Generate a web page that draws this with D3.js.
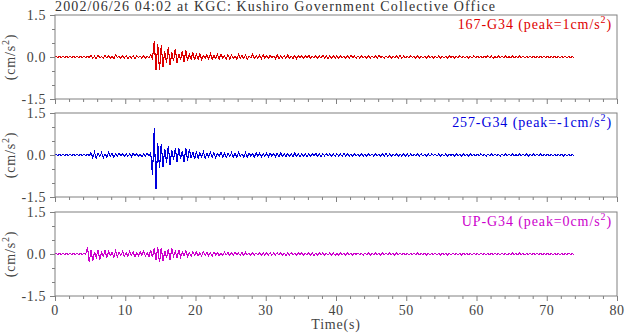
<!DOCTYPE html>
<html><head><meta charset="utf-8">
<script src="https://cdn.jsdelivr.net/npm/d3@7"></script>
<style>
html,body{margin:0;padding:0;background:#fff;}
svg{display:block;font-family:"Liberation Serif","Times New Roman",serif;}
</style></head>
<body>
<svg id="chart" width="625" height="334"></svg>
<script>
// ---- data (0.5 s bins, per-bin max / min amplitude in cm/s^2) ----
const title = "2002/06/26 04:02 at KGC: Kushiro Government Collective Office";
const components = ["167-G34", "257-G34", "UP-G34"];
const peaks = ["1", "-1", "0"];
const colors = ["#dd0000", "#0000dd", "#cc00cc"];
const binStep = 0.5;
const yTickLabels = ["1.5", "0.0", "-1.5"];
const xTickLabels = [0, 10, 20, 30, 40, 50, 60, 70, 80];

const hi167 = [
0.01,0.01,0.01,0.01,0.01,0.01,0.01,0.01,0.01,0.02,
0.05,0.03,0.06,0.02,0.05,0.03,0.04,0.07,0.02,0.04,
0.05,0.02,0.04,0.05,0.03,0.06,0.03,0.07,0.57,0.48,
0.43,0.20,0.37,0.16,0.29,0.12,0.21,0.24,0.09,0.17,
0.10,0.13,0.05,0.09,0.12,0.05,0.09,0.11,0.04,0.08,
0.07,0.04,0.09,0.05,0.07,0.03,0.09,0.05,0.06,0.08,
0.05,0.06,0.03,0.07,0.04,0.05,0.07,0.03,0.05,0.06,
0.04,0.05,0.06,0.03,0.05,0.04,0.06,0.03,0.05,0.05,
0.04,0.05,0.03,0.04,0.06,0.03,0.04,0.05,0.03,0.04,
0.04,0.03,0.05,0.02,0.04,0.04,0.03,0.05,0.05,0.03,
0.03,0.04,0.02,0.04,0.03,0.03,0.04,0.02,0.03,0.04,
0.03,0.02,0.04,0.03,0.03,0.04,0.02,0.03,0.03,0.04,
0.03,0.03,0.02,0.04,0.03,0.02,0.03,0.03,0.04,0.02,
0.03,0.02,0.03,0.03,0.02,0.03,0.03,0.02,0.03,0.03,
0.03,0.02,0.03,0.02,0.02,0.03,0.02,0.02];
const lo167 = [
-0.01,-0.01,-0.01,-0.01,-0.01,-0.01,-0.01,-0.01,-0.01,-0.02,
-0.05,-0.06,-0.03,-0.05,-0.03,-0.05,-0.06,-0.02,-0.05,-0.04,
-0.05,-0.03,-0.06,-0.02,-0.05,-0.04,-0.03,-0.06,-0.46,-0.48,
-0.35,-0.22,-0.30,-0.15,-0.21,-0.10,-0.17,-0.13,-0.08,-0.12,
-0.09,-0.10,-0.05,-0.08,-0.09,-0.05,-0.07,-0.04,-0.08,-0.07,
-0.06,-0.07,-0.04,-0.06,-0.07,-0.03,-0.06,-0.05,-0.06,-0.04,
-0.05,-0.03,-0.06,-0.05,-0.03,-0.05,-0.04,-0.05,-0.06,-0.03,
-0.05,-0.04,-0.05,-0.03,-0.05,-0.04,-0.03,-0.05,-0.04,-0.05,
-0.04,-0.03,-0.04,-0.05,-0.02,-0.04,-0.04,-0.03,-0.04,-0.04,
-0.03,-0.04,-0.02,-0.04,-0.03,-0.04,-0.02,-0.03,-0.04,-0.03,
-0.03,-0.02,-0.04,-0.03,-0.03,-0.04,-0.02,-0.03,-0.04,-0.03,
-0.03,-0.04,-0.02,-0.03,-0.03,-0.02,-0.04,-0.03,-0.03,-0.02,
-0.03,-0.03,-0.02,-0.03,-0.04,-0.03,-0.02,-0.03,-0.03,-0.03,
-0.03,-0.02,-0.03,-0.03,-0.03,-0.02,-0.03,-0.02,-0.03,-0.02,
-0.03,-0.02,-0.02,-0.03,-0.02,-0.02,-0.03,-0.02];

const hi257 = [
0.01,0.01,0.01,0.01,0.01,0.01,0.01,0.01,0.01,0.02,
0.08,0.10,0.06,0.09,0.04,0.08,0.05,0.03,0.06,0.04,
0.05,0.03,0.06,0.04,0.03,0.05,0.06,0.08,0.96,0.42,
0.40,0.22,0.33,0.17,0.25,0.26,0.14,0.24,0.20,0.11,
0.13,0.08,0.12,0.06,0.10,0.08,0.05,0.10,0.07,0.05,
0.08,0.05,0.09,0.04,0.08,0.07,0.04,0.08,0.06,0.05,
0.06,0.07,0.04,0.06,0.07,0.04,0.06,0.05,0.07,0.04,
0.05,0.06,0.04,0.05,0.06,0.03,0.05,0.06,0.04,0.04,
0.05,0.03,0.05,0.05,0.03,0.05,0.04,0.05,0.03,0.05,
0.04,0.05,0.03,0.04,0.05,0.03,0.04,0.05,0.03,0.04,
0.04,0.03,0.03,0.04,0.04,0.02,0.04,0.04,0.03,0.04,
0.03,0.04,0.03,0.03,0.04,0.02,0.04,0.03,0.04,0.03,
0.03,0.04,0.02,0.03,0.04,0.03,0.02,0.04,0.03,0.03,
0.03,0.02,0.04,0.03,0.03,0.02,0.03,0.04,0.03,0.02,
0.03,0.03,0.02,0.02,0.03,0.03,0.02,0.02];
const lo257 = [
-0.01,-0.01,-0.01,-0.01,-0.01,-0.01,-0.01,-0.01,-0.01,-0.02,
-0.10,-0.12,-0.06,-0.10,-0.07,-0.04,-0.07,-0.05,-0.03,-0.05,
-0.05,-0.06,-0.03,-0.05,-0.06,-0.03,-0.04,-0.72,-1.20,-0.47,
-0.42,-0.28,-0.36,-0.18,-0.24,-0.14,-0.24,-0.20,-0.12,-0.15,
-0.12,-0.07,-0.11,-0.06,-0.08,-0.10,-0.05,-0.07,-0.09,-0.05,
-0.07,-0.08,-0.04,-0.07,-0.08,-0.04,-0.07,-0.05,-0.07,-0.04,
-0.06,-0.04,-0.07,-0.06,-0.04,-0.06,-0.05,-0.06,-0.04,-0.06,
-0.05,-0.06,-0.04,-0.04,-0.05,-0.06,-0.03,-0.04,-0.05,-0.05,
-0.04,-0.05,-0.03,-0.04,-0.05,-0.03,-0.05,-0.04,-0.05,-0.03,
-0.04,-0.03,-0.05,-0.04,-0.04,-0.05,-0.03,-0.04,-0.04,-0.05,
-0.04,-0.03,-0.04,-0.03,-0.03,-0.04,-0.04,-0.02,-0.04,-0.03,
-0.04,-0.03,-0.02,-0.04,-0.03,-0.04,-0.02,-0.03,-0.04,-0.03,
-0.03,-0.02,-0.04,-0.03,-0.03,-0.02,-0.04,-0.03,-0.03,-0.03,
-0.03,-0.03,-0.02,-0.03,-0.04,-0.03,-0.02,-0.03,-0.03,-0.03,
-0.03,-0.02,-0.03,-0.02,-0.03,-0.02,-0.03,-0.02];

const hiUP = [
0.01,0.01,0.01,0.01,0.01,0.01,0.01,0.01,0.01,0.26,
0.14,0.08,0.15,0.06,0.13,0.09,0.05,0.10,0.06,0.09,
0.05,0.10,0.07,0.04,0.08,0.10,0.06,0.14,0.20,0.26,
0.22,0.12,0.18,0.20,0.09,0.15,0.07,0.12,0.05,0.09,
0.07,0.04,0.08,0.06,0.03,0.07,0.05,0.04,0.06,0.05,
0.05,0.06,0.03,0.05,0.06,0.03,0.05,0.04,0.03,0.05,
0.04,0.05,0.03,0.04,0.05,0.03,0.04,0.05,0.03,0.04,
0.04,0.03,0.05,0.04,0.03,0.04,0.05,0.03,0.04,0.04,
0.03,0.04,0.02,0.03,0.04,0.03,0.04,0.02,0.04,0.03,
0.03,0.04,0.02,0.03,0.04,0.03,0.02,0.04,0.03,0.03,
0.03,0.02,0.03,0.04,0.02,0.03,0.03,0.02,0.03,0.03,
0.03,0.02,0.03,0.03,0.02,0.03,0.03,0.02,0.03,0.03,
0.02,0.03,0.02,0.02,0.03,0.03,0.02,0.03,0.02,0.02,
0.03,0.02,0.03,0.02,0.02,0.03,0.02,0.03,0.02,0.02,
0.02,0.03,0.02,0.02,0.02,0.02,0.03,0.02];
const loUP = [
-0.01,-0.01,-0.01,-0.01,-0.01,-0.01,-0.01,-0.01,-0.01,-0.30,
-0.24,-0.12,-0.20,-0.08,-0.14,-0.06,-0.12,-0.09,-0.05,-0.08,
-0.09,-0.05,-0.10,-0.07,-0.04,-0.08,-0.10,-0.12,-0.22,-0.30,
-0.26,-0.14,-0.20,-0.09,-0.14,-0.11,-0.07,-0.10,-0.08,-0.05,
-0.06,-0.07,-0.04,-0.06,-0.07,-0.03,-0.06,-0.05,-0.03,-0.06,
-0.05,-0.03,-0.05,-0.06,-0.03,-0.05,-0.04,-0.03,-0.05,-0.04,
-0.04,-0.05,-0.03,-0.04,-0.04,-0.05,-0.03,-0.04,-0.05,-0.03,
-0.04,-0.03,-0.04,-0.05,-0.03,-0.04,-0.04,-0.03,-0.04,-0.05,
-0.04,-0.02,-0.04,-0.03,-0.04,-0.02,-0.03,-0.04,-0.03,-0.04,
-0.03,-0.02,-0.04,-0.03,-0.03,-0.02,-0.04,-0.03,-0.02,-0.03,
-0.03,-0.02,-0.03,-0.03,-0.02,-0.04,-0.03,-0.02,-0.03,-0.03,
-0.02,-0.03,-0.03,-0.02,-0.03,-0.03,-0.02,-0.03,-0.03,-0.02,
-0.03,-0.02,-0.03,-0.03,-0.02,-0.03,-0.03,-0.02,-0.03,-0.02,
-0.02,-0.03,-0.02,-0.03,-0.03,-0.02,-0.03,-0.02,-0.03,-0.02,
-0.03,-0.02,-0.03,-0.02,-0.03,-0.02,-0.02,-0.03];

const highs = [hi167, hi257, hiUP];
const lows = [lo167, lo257, loUP];

// ---- layout ----
const svg = d3.select("#chart");
const left = 55, right = 617;
const panelTops = [15, 113, 212];
const panelH = 84;
const frameColor = "#808080";
const textColor = "#444";

const x = d3.scaleLinear().domain([0, 80]).range([left, right]);

svg.append("text")
  .attr("x", 55).attr("y", 11)
  .attr("font-size", 14).attr("fill", "#333")
  .attr("textLength", 440).attr("lengthAdjust", "spacing")
  .text(title);

components.forEach((comp, k) => {
  const top = panelTops[k];
  const y = d3.scaleLinear().domain([-1.5, 1.5]).range([top + panelH, top]);
  const g = svg.append("g");

  // trace
  const pts = [[0, 0]];
  highs[k].forEach((h, i) => {
    const t = i * binStep;
    pts.push([t + binStep * 0.25, h]);
    pts.push([t + binStep * 0.75, lows[k][i]]);
  });
  const line = d3.line().x(d => x(d[0])).y(d => y(d[1]));
  g.append("path").attr("d", line(pts))
    .attr("fill", "none").attr("stroke", colors[k]).attr("stroke-width", 1.1)
    .attr("shape-rendering", "crispEdges");

  // frame
  g.append("rect").attr("x", left).attr("y", top)
    .attr("width", right - left).attr("height", panelH)
    .attr("fill", "none").attr("stroke", frameColor).attr("stroke-width", 1);

  // y ticks
  const yAxis = d3.axisLeft(y).tickValues(d3.range(-1.5, 1.51, 0.5))
    .tickSize(3).tickFormat("");
  const ya = g.append("g").attr("transform", `translate(${left},0)`).call(yAxis);
  ya.select(".domain").remove();
  ya.selectAll("line").attr("stroke", frameColor)
    .attr("x2", d => (Math.abs(d) < 1e-9 || Math.abs(Math.abs(d) - 1.5) < 1e-9) ? -5 : -3);
  [1.5, 0, -1.5].forEach((v, j) => {
    g.append("text").attr("x", 46).attr("y", y(v) + 5)
      .attr("text-anchor", "end").attr("font-size", 14)
      .attr("letter-spacing", 0.6).attr("fill", textColor)
      .text(yTickLabels[j]);
  });

  // x ticks
  const xAxis = d3.axisBottom(x).tickValues(d3.range(0, 80.1, 2))
    .tickSize(3).tickFormat("");
  const xa = g.append("g").attr("transform", `translate(0,${top + panelH})`).call(xAxis);
  xa.select(".domain").remove();
  xa.selectAll("line").attr("stroke", frameColor)
    .attr("y2", d => (d % 10 === 0) ? 5 : 3);

  // y title
  const yt = g.append("text")
    .attr("transform", `translate(15,${top + panelH / 2}) rotate(-90)`)
    .attr("text-anchor", "middle").attr("font-size", 14)
    .attr("letter-spacing", 0.8).attr("fill", textColor);
  yt.append("tspan").text("(cm/s");
  yt.append("tspan").attr("font-size", 10).attr("dy", -6).text("2");
  yt.append("tspan").attr("dy", 6).text(")");

  // component label
  const lab = g.append("text")
    .attr("x", 612).attr("y", top + 14)
    .attr("text-anchor", "end").attr("font-size", 14)
    .attr("letter-spacing", 0.9).attr("fill", colors[k]);
  lab.append("tspan").text(`${comp} (peak=${peaks[k]}cm/s`);
  lab.append("tspan").attr("font-size", 10).attr("dy", -6).text("2");
  lab.append("tspan").attr("dy", 6).text(")");
});

// x tick labels on bottom panel
const bottom = panelTops[2] + panelH;
xTickLabels.forEach(v => {
  svg.append("text").attr("x", x(v)).attr("y", bottom + 19)
    .attr("text-anchor", "middle").attr("font-size", 14)
    .attr("letter-spacing", 0.6).attr("fill", textColor).text(v);
});
svg.append("text").attr("x", (left + right) / 2).attr("y", bottom + 33)
  .attr("text-anchor", "middle").attr("font-size", 14)
  .attr("letter-spacing", 0.8).attr("fill", textColor).text("Time(s)");
</script>
</body></html>
